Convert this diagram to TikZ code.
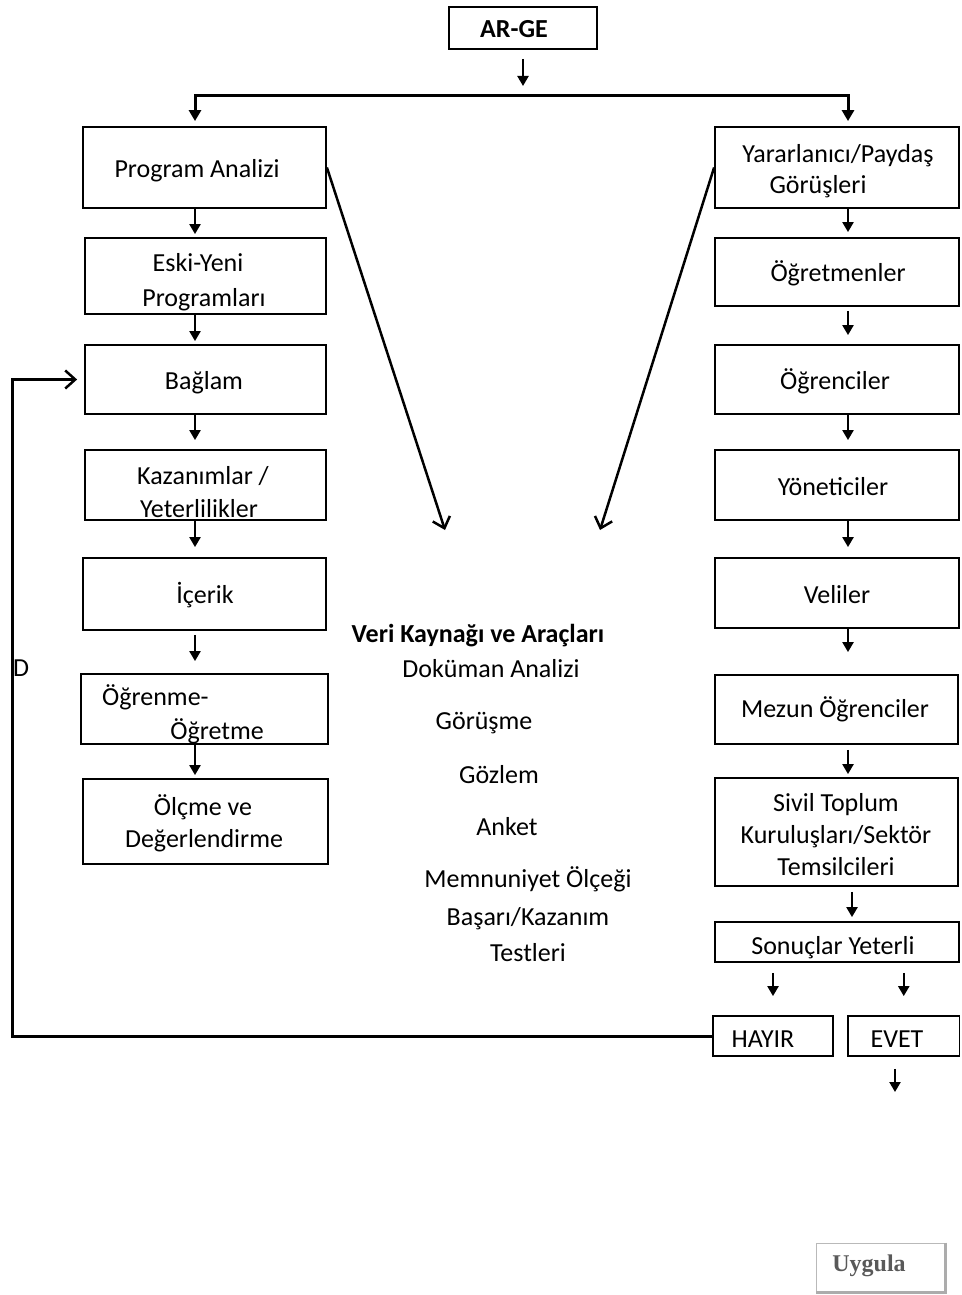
\documentclass[tikz,border=0pt]{standalone}
\usepackage{fontspec}
\setmainfont{Carlito}
\newfontfamily\uyfont{Liberation Serif}
\usetikzlibrary{arrows.meta}
\newcommand\mybox[5]{\node[box, minimum width={#4-#2}, minimum height={#5-#3}] (#1) at ({(#2+#4)/2},{(#3+#5)/2}) {};}
\begin{document}
\begin{tikzpicture}[x=1pt,y=-1pt,
  box/.style={draw, line width=1.8pt, inner sep=0pt},
  t/.style={inner sep=0pt, font=\fontsize{26}{32}\selectfont, text height=19pt, text depth=6pt},
  ar/.style={line width=2.2pt, -{Triangle[length=10pt,width=11pt]}},
  oar/.style={line width=2.5pt, -{Straight Barb[length=10pt,width=18pt,line width=2.5pt]}}
]
\useasboundingbox (0,0) rectangle (961,1295);
% boxes
\mybox{arge}{449}{7}{597}{49}
\mybox{pa}{83}{127}{326}{208}
\mybox{ey}{85}{238}{326}{314}
\mybox{bg}{85}{345}{326}{414}
\mybox{kz}{85}{450}{326}{520}
\mybox{ic}{83}{558}{326}{630}
\mybox{oo}{81}{674}{328}{744}
\mybox{od}{83}{779}{328}{864}
\mybox{yp}{715}{127}{959}{208}
\mybox{ot}{715}{238}{959}{306}
\mybox{og}{715}{345}{959}{414}
\mybox{yo}{715}{450}{959}{520}
\mybox{ve}{715}{558}{959}{628}
\mybox{mz}{715}{675}{958}{744}
\mybox{st}{715}{778}{958}{886}
\mybox{sy}{715}{922}{959}{962}
\mybox{hy}{713}{1016}{833}{1056}
\mybox{ev}{848}{1016}{959.5}{1056}
% texts
\node[t] (tArge) at (514,31) {\bfseries AR-GE};
\node[t] (tPa) at (197,171) {Program Analizi};
\node[t] (tEy1) at (198,265) {Eski-Yeni};
\node[t] (tEy2) at (204,300) {Programları};
\node[t] (tBg) at (204,383) {Bağlam};
\node[t] (tKz1) at (203,478) {Kazanımlar /};
\node[t] (tKz2) at (199,511) {Yeterlilikler};
\node[t] (tIc) at (205,597) {İçerik};
\node[t, anchor=west] (tOo1) at (102,699) {Öğrenme-};
\node[t] (tOo2) at (217,733) {Öğretme};
\node[t] (tOd1) at (203,809) {Ölçme ve};
\node[t] (tOd2) at (204,841) {Değerlendirme};
\node[t] (tYp1) at (838,156) {Yararlanıcı/Paydaş};
\node[t] (tYp2) at (818,187) {Görüşleri};
\node[t] (tOt) at (838,275) {Öğretmenler};
\node[t] (tOg) at (835,383) {Öğrenciler};
\node[t] (tYo) at (833,489) {Yöneticiler};
\node[t] (tVe) at (837,597) {Veliler};
\node[t] (tMz) at (835,711) {Mezun Öğrenciler};
\node[t] (tSt1) at (836,805) {Sivil Toplum};
\node[t] (tSt2) at (836,837) {Kuruluşları/Sektör};
\node[t] (tSt3) at (836,869) {Temsilcileri};
\node[t] (tSy) at (833,948) {Sonuçlar Yeterli};
\node[t] (tHy) at (763,1041) {HAYIR};
\node[t] (tEv) at (897,1041) {EVET};
\node[t] (tV0) at (478,636) {\bfseries Veri Kaynağı ve Araçları};
\node[t] (tV1) at (491,671) {Doküman Analizi};
\node[t] (tV2) at (484,723) {Görüşme};
\node[t] (tV3) at (499,777) {Gözlem};
\node[t] (tV4) at (507,829) {Anket};
\node[t] (tV5) at (528,881) {Memnuniyet Ölçeği};
\node[t] (tV6) at (528,919) {Başarı/Kazanım};
\node[t] (tV7) at (528,955) {Testleri};
\node[t] (tD) at (21,670) {D};
% coordinates
\coordinate (lx) at (195,0);
\coordinate (rx) at (848,0);
\coordinate (rx2) at (852,0);
\coordinate (bar) at (523,96);
\coordinate (fbx) at (12,0);
\coordinate (dl) at (445,530);
\coordinate (dr) at (600,530);
\coordinate (out) at (895,1092);
% top connectors
\draw[ar, shorten <=9pt, shorten >=10pt] (arge.south) -- (bar);
\draw[line width=3pt, {Triangle[length=11pt,width=12pt]}-{Triangle[length=11pt,width=12pt]}, shorten <=5pt, shorten >=5pt]
  (pa.north -| lx) |- (bar) -| (yp.north -| rx);
% left column
\draw[ar, shorten >=3pt] (pa.south -| lx) -- (ey.north -| lx);
\draw[ar, shorten >=3pt] (ey.south -| lx) -- (bg.north -| lx);
\draw[ar, shorten >=9pt] (bg.south -| lx) -- (kz.north -| lx);
\draw[ar, shorten >=10pt] (kz.south -| lx) -- (ic.north -| lx);
\draw[ar, shorten <=4pt, shorten >=12pt] (ic.south -| lx) -- (oo.north -| lx);
\draw[ar, shorten >=3pt] (oo.south -| lx) -- (od.north -| lx);
% right column
\draw[ar, shorten >=5pt] (yp.south -| rx) -- (ot.north -| rx);
\draw[ar, shorten <=4pt, shorten >=9pt] (ot.south -| rx) -- (og.north -| rx);
\draw[ar, shorten >=9pt] (og.south -| rx) -- (yo.north -| rx);
\draw[ar, shorten >=10pt] (yo.south -| rx) -- (ve.north -| rx);
\draw[ar, shorten >=22pt] (ve.south -| rx) -- (mz.north -| rx);
\draw[ar, shorten <=5pt, shorten >=3pt] (mz.south -| rx) -- (st.north -| rx);
\draw[ar, shorten <=5pt, shorten >=4pt] (st.south -| rx2) -- (sy.north -| rx2);
\draw[ar, shorten <=10pt, shorten >=19pt] (sy.south -| hy.north) -- (hy.north);
\draw[ar, shorten <=10pt, shorten >=19pt] (sy.south -| ev.north) -- (ev.north);
\draw[ar, shorten <=12pt] (ev.south -| out) -- (out);
% diagonals
\draw[oar] (pa.east) -- (dl);
\draw[oar] (yp.west) -- (dr);
% feedback
\draw[oar, line width=3pt] (hy.west) -- (hy.west -| fbx) -- (fbx |- bg.west) -- ([xshift=-7pt]bg.west);
% Uygula button
\node[draw=gray!55, line width=1pt, minimum width=128pt, minimum height=48pt, inner sep=0pt] (ug) at (880,1267) {};
\draw[gray!65, line width=3pt] ([xshift=1pt]ug.north east) -- ([xshift=1pt,yshift=-1pt]ug.south east) -- ([yshift=-1pt]ug.south west);
\node[inner sep=0pt, text=gray!70!black, font=\uyfont\bfseries\fontsize{24}{28}\selectfont] (tUg) at (869,1266) {Uygula};
\end{tikzpicture}
\end{document}
